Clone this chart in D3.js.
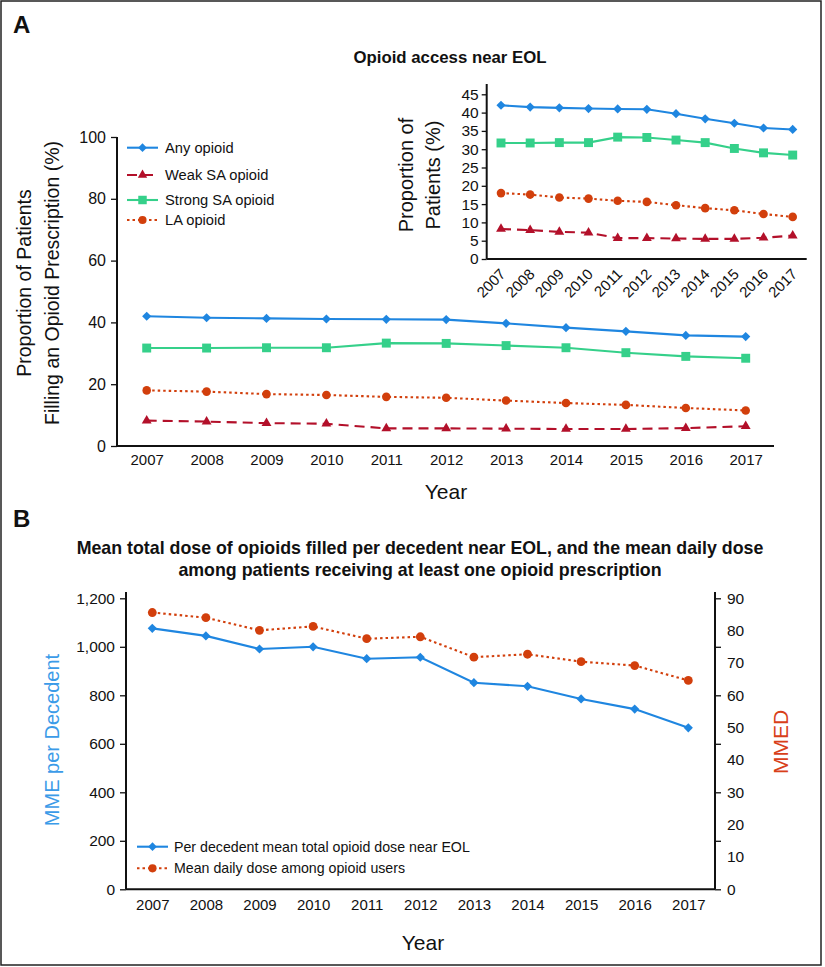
<!DOCTYPE html>
<html><head><meta charset="utf-8">
<script src="https://cdn.jsdelivr.net/npm/d3@7"></script>
<style>
body{margin:0;background:#fff;}
text{font-family:"Liberation Sans",Arial,sans-serif;fill:#111;}
</style></head><body>
<svg id="c" width="825" height="967"></svg>
<script>
const years = [2007,2008,2009,2010,2011,2012,2013,2014,2015,2016,2017];
const anyOpioid = [42.0,41.5,41.3,41.1,41.0,40.9,39.7,38.3,37.1,35.8,35.4];
const weakSA    = [8.2,7.9,7.4,7.2,5.7,5.7,5.6,5.5,5.5,5.8,6.4];
const strongSA  = [31.7,31.7,31.8,31.8,33.3,33.2,32.5,31.8,30.2,29.0,28.4];
const laOpioid  = [18.0,17.6,16.8,16.5,15.9,15.6,14.7,13.9,13.3,12.3,11.5];
const mmePerDecedent = [1076,1045,991,1000,951,957,852,837,785,743,666];
const mmed = [85.6,84.0,80.1,81.3,77.5,78.1,71.8,72.7,70.4,69.2,64.6];
const mainTicks = [0,20,40,60,80,100];
const insetTicks = [0,5,10,15,20,25,30,35,40,45];
const mmeTicks = [0,200,400,600,800,1000,1200];
const mmedLabels = [0,10,20,30,40,50,60,70,80,90];
const mmedTickMarks = [0,15,30,45,60,75,90];

const C = {blue:"#1f86e0", red:"#b3102a", green:"#35d08a", orange:"#d23f0c"};
const seriesA = [
  {name:"Any opioid", vals:anyOpioid, color:C.blue, dash:null, shape:"diamond"},
  {name:"Weak SA opioid", vals:weakSA, color:C.red, dash:"10,6", shape:"triangle"},
  {name:"Strong SA opioid", vals:strongSA, color:C.green, dash:null, shape:"square"},
  {name:"LA opioid", vals:laOpioid, color:C.orange, dash:"2.5,3", shape:"circle"}
];
const svg = d3.select("#c");
svg.append("rect").attr("x",1).attr("y",1).attr("width",820).attr("height",964)
  .attr("fill","none").attr("stroke","#222").attr("stroke-width",1.5);

const diamondType = {draw(ctx, size){ const r=Math.sqrt(size/2); ctx.moveTo(0,-r); ctx.lineTo(r,0); ctx.lineTo(0,r); ctx.lineTo(-r,0); ctx.closePath(); }};
const shapeMap = {diamond:diamondType, triangle:d3.symbolTriangle, square:d3.symbolSquare, circle:d3.symbolCircle};
const sizeMap = {diamond:42, triangle:42, square:80, circle:58};
function marker(g, shape, x, y, color, scale=1){
  g.append("path").attr("d", d3.symbol().type(shapeMap[shape]).size(sizeMap[shape]*scale)())
   .attr("transform",`translate(${x},${y})`).attr("fill",color);
}
function styleAxis(g, fs){
  g.selectAll("path.domain").attr("stroke","#111").attr("stroke-width",2);
  g.selectAll(".tick line").attr("stroke","#111").attr("stroke-width",1.3);
  g.selectAll(".tick text").style("font-size",fs+"px").attr("fill","#111")
   .style("font-family","'Liberation Sans',Arial,sans-serif");
}
function drawSeries(g, x, y, vals, color, dash, shape, scale){
  const line = d3.line().x((d,i)=>x(years[i])).y(d=>y(d));
  g.append("path").attr("d", line(vals)).attr("fill","none").attr("stroke",color)
   .attr("stroke-width",2.1).attr("stroke-dasharray",dash);
  vals.forEach((v,i)=>marker(g, shape, x(years[i]), y(v), color, scale));
}

// Panel labels
svg.append("text").attr("x",13).attr("y",33).text("A").style("font-size","24px").style("font-weight","bold");
svg.append("text").attr("x",13).attr("y",527).text("B").style("font-size","24px").style("font-weight","bold");

// ---- Panel A main ----
const xA = d3.scalePoint().domain(years).range([146.7,745.7]);
const yA = d3.scaleLinear().domain([0,100]).range([446,137]);
const gA = svg.append("g");
const axAx = gA.append("g").attr("transform","translate(0,446)")
  .call(d3.axisBottom(xA).tickSize(0).tickPadding(8));
axAx.select("path.domain").attr("d","M117,0H774");
styleAxis(axAx,15);
const axAy = gA.append("g").attr("transform","translate(117,0)")
  .call(d3.axisLeft(yA).tickValues(mainTicks).tickSize(6).tickPadding(5));
axAy.select("path.domain").attr("d","M0,446V137");
styleAxis(axAy,16);
seriesA.forEach(s=>drawSeries(gA, xA, yA, s.vals, s.color, s.dash, s.shape, 1));
svg.append("text").attr("x",446).attr("y",499).attr("text-anchor","middle")
  .text("Year").style("font-size","21px").style("font-family","'Liberation Sans Narrow','Liberation Sans',Arial");
const yTitleA = svg.append("text").attr("transform","translate(0,283) rotate(-90)").attr("text-anchor","middle").style("font-size","19.5px");
yTitleA.append("tspan").attr("x",0).attr("y",31).text("Proportion of Patients");
yTitleA.append("tspan").attr("x",0).attr("y",59).text("Filling an Opioid Prescription (%)");

// legend A
const legA = svg.append("g");
const legRows = [147.7,175,200,220];
seriesA.forEach((s,i)=>{
  const yy = legRows[i];
  legA.append("line").attr("x1",127).attr("x2",158).attr("y1",yy).attr("y2",yy)
    .attr("stroke",s.color).attr("stroke-width",2.1).attr("stroke-dasharray",s.dash);
  marker(legA, s.shape, 142.5, yy, s.color, 0.9);
  legA.append("text").attr("x",165).attr("y",yy+5).text(s.name).style("font-size","14.7px");
});

// ---- Inset ----
const xI = d3.scalePoint().domain(years).range([501,792.7]);
const yI = d3.scaleLinear().domain([0,45]).range([259,94.3]);
const gI = svg.append("g");
svg.append("text").attr("x",450).attr("y",63).attr("text-anchor","middle")
  .text("Opioid access near EOL").style("font-size","16.8px").style("font-weight","bold");
const axIy = gI.append("g").attr("transform","translate(486.7,0)")
  .call(d3.axisLeft(yI).tickValues(insetTicks).tickSize(5).tickPadding(3));
axIy.select("path.domain").attr("d","M0,259V84");
styleAxis(axIy,15.5);
const axIx = gI.append("g").attr("transform","translate(0,259)")
  .call(d3.axisBottom(xI).tickSize(0).tickPadding(0));
axIx.select("path.domain").attr("d","M486.7,0H806.7");
styleAxis(axIx,15);
axIx.selectAll(".tick text").attr("text-anchor","end").attr("dy","0").attr("y",0)
  .attr("transform","translate(5,16) rotate(-45)");
seriesA.forEach(s=>drawSeries(gI, xI, yI, s.vals, s.color, s.dash, s.shape, 1.0));
const yTitleI = svg.append("text").attr("transform","translate(0,175) rotate(-90)").attr("text-anchor","middle").style("font-size","20px");
yTitleI.append("tspan").attr("x",0).attr("y",413).text("Proportion of");
yTitleI.append("tspan").attr("x",0).attr("y",440).text("Patients (%)");

// ---- Panel B ----
const xB = d3.scalePoint().domain(years).range([152.3,688.3]);
const yB = d3.scaleLinear().domain([0,1200]).range([889.3,598.3]);
const yB2 = d3.scaleLinear().domain([0,90]).range([889.3,598.3]);
const gB = svg.append("g");
const bt = svg.append("text").attr("text-anchor","middle").style("font-size","17.8px").style("font-weight","bold");
bt.append("tspan").attr("x",420).attr("y",554).text("Mean total dose of opioids filled per decedent near EOL, and the mean daily dose");
bt.append("tspan").attr("x",420).attr("y",576).text("among patients receiving at least one opioid prescription");

const axBx = gB.append("g").attr("transform","translate(0,889.3)")
  .call(d3.axisBottom(xB).tickSize(0).tickPadding(10));
axBx.select("path.domain").attr("d","M126,0H715");
styleAxis(axBx,15);
const axBy = gB.append("g").attr("transform","translate(126,0)")
  .call(d3.axisLeft(yB).tickValues(mmeTicks).tickFormat(d3.format(",")).tickSize(6).tickPadding(5));
axBy.select("path.domain").attr("d","M0,889.3V592");
styleAxis(axBy,15.5);
const axBr = gB.append("g").attr("transform","translate(715,0)")
  .call(d3.axisRight(yB2).tickValues(mmedTickMarks).tickFormat("").tickSize(6));
axBr.select("path.domain").attr("d","M0,889.3V592");
styleAxis(axBr,15);
const axBrL = gB.append("g").attr("transform","translate(715,0)")
  .call(d3.axisRight(yB2).tickValues(mmedLabels).tickSize(0).tickPadding(12));
axBrL.select("path.domain").remove();
styleAxis(axBrL,15.5);

drawSeries(gB, xB, yB, mmePerDecedent, C.blue, null, "diamond", 1);
drawSeries(gB, xB, yB2, mmed, C.orange, "2.5,3", "circle", 1.05);

svg.append("text").attr("x",423).attr("y",950).attr("text-anchor","middle")
  .text("Year").style("font-size","21px").style("font-family","'Liberation Sans Narrow','Liberation Sans',Arial");
svg.append("text").attr("transform","translate(59,740) rotate(-90)").attr("text-anchor","middle")
  .text("MME per Decedent").style("font-size","20px").style("fill","#3b9be8");
svg.append("text").attr("transform","translate(788,742) rotate(-90)").attr("text-anchor","middle")
  .text("MMED").style("font-size","21px").style("fill","#d8401a").style("font-family","'Liberation Sans Narrow','Liberation Sans',Arial");

const legB = svg.append("g");
[{n:"Per decedent mean total opioid dose near EOL", c:C.blue, d:null, s:"diamond", y:846.7},
 {n:"Mean daily dose among opioid users", c:C.orange, d:"2.5,3", s:"circle", y:868.3}].forEach(r=>{
  legB.append("line").attr("x1",137).attr("x2",168).attr("y1",r.y).attr("y2",r.y)
    .attr("stroke",r.c).attr("stroke-width",2.1).attr("stroke-dasharray",r.d);
  marker(legB, r.s, 152.5, r.y, r.c, 0.9);
  legB.append("text").attr("x",174).attr("y",r.y+5).text(r.n).style("font-size","14.2px");
});
</script></body></html>
